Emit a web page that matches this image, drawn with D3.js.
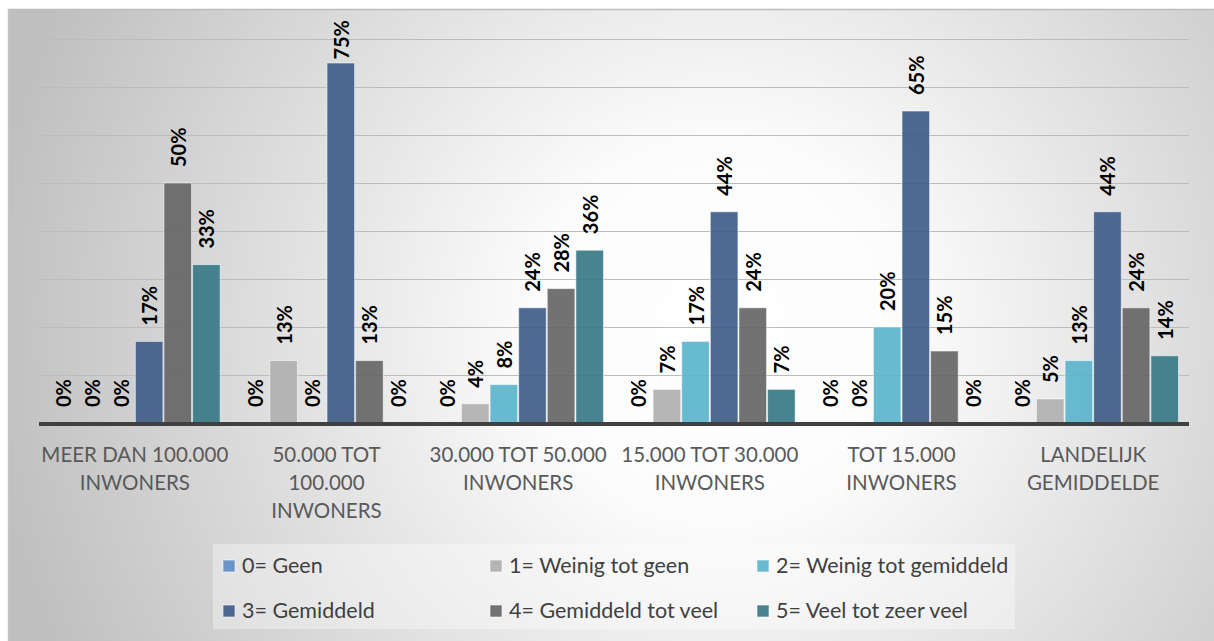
<!DOCTYPE html>
<html>
<head>
<meta charset="utf-8">
<script src="https://cdn.jsdelivr.net/npm/d3@7"></script>
<style>
  html, body { margin: 0; padding: 0; background: #ffffff; }
  svg { display: block; }
  text { font-family: Lato, "Open Sans", sans-serif; }
</style>
</head>
<body>
<svg id="chart" width="1214" height="641"></svg>
<script>
// Categories (municipality size) — "\n" marks a line break in the axis label
const categories = [
  "MEER DAN 100.000\nINWONERS",
  "50.000 TOT\n100.000\nINWONERS",
  "30.000 TOT 50.000\nINWONERS",
  "15.000 TOT 30.000\nINWONERS",
  "TOT 15.000\nINWONERS",
  "LANDELIJK\nGEMIDDELDE"
];

// Answer scale (series)
const series = [
  "0= Geen",
  "1= Weinig tot geen",
  "2= Weinig tot gemiddeld",
  "3= Gemiddeld",
  "4= Gemiddeld tot veel",
  "5= Veel tot zeer veel"
];

// Share per category, one array per series (percent)
const geen               = [0, 0, 0, 0, 0, 0];
const weinigTotGeen      = [0, 13, 4, 7, 0, 5];
const weinigTotGemiddeld = [0, 0, 8, 17, 20, 13];
const gemiddeld          = [17, 75, 24, 44, 65, 44];
const gemiddeldTotVeel   = [50, 13, 28, 24, 15, 24];
const veelTotZeerVeel    = [33, 0, 36, 7, 0, 14];

const seriesValues = [geen, weinigTotGeen, weinigTotGemiddeld, gemiddeld, gemiddeldTotVeel, veelTotZeerVeel];
const colors = ["#5f8dc6", "#b0b0b0", "#5ab4cc", "#3f5d88", "#666666", "#377a86"];

// Gridline values (percent)
const gridTicks = [10, 20, 30, 40, 50, 60, 70, 80];

const svg = d3.select("#chart");
const W = 1214, H = 641;

// Background panel with a soft radial shading
const defs = svg.append("defs");
const grad = defs.append("radialGradient")
  .attr("id", "bg").attr("gradientUnits", "userSpaceOnUse")
  .attr("cx", 720).attr("cy", 330).attr("r", 740);
grad.append("stop").attr("offset", "0").attr("stop-color", "#ffffff");
grad.append("stop").attr("offset", "0.25").attr("stop-color", "#fcfcfc");
grad.append("stop").attr("offset", "1").attr("stop-color", "#bfbfbf");

svg.append("rect").attr("x", 8).attr("y", 9).attr("width", W - 8).attr("height", H - 9)
  .attr("fill", "url(#bg)");
svg.append("line").attr("x1", 8).attr("x2", W).attr("y1", 9.5).attr("y2", 9.5)
  .attr("stroke", "#bdbdbd").attr("stroke-width", 1.5);
svg.append("line").attr("x1", 8.5).attr("x2", 8.5).attr("y1", 9).attr("y2", H)
  .attr("stroke", "#c4c4c4").attr("stroke-width", 1.5);

// Scales
const plot = { left: 39, right: 1189, top: 39, bottom: 423 };
const x0 = d3.scaleBand().domain(categories).range([plot.left, plot.right]).padding(0);
const x1 = d3.scaleBand().domain(series).range([0, x0.bandwidth()])
  .paddingInner(0).paddingOuter(0.35);
const y = d3.scaleLinear().domain([0, 80]).range([plot.bottom, plot.top]);

// Gridlines
svg.append("g").selectAll("line").data(gridTicks).join("line")
  .attr("x1", plot.left).attr("x2", plot.right)
  .attr("y1", d => Math.round(y(d)) + 0.5).attr("y2", d => Math.round(y(d)) + 0.5)
  .attr("stroke", "#bcbcbc").attr("stroke-width", 1);

// Bars
const flat = [];
series.forEach((s, si) => {
  categories.forEach((c, ci) => {
    flat.push({ s, si, c, ci, v: seriesValues[si][ci] });
  });
});

svg.append("g").selectAll("rect").data(flat.filter(d => d.v > 0)).join("rect")
  .attr("x", d => x0(d.c) + x1(d.s) + 0.5)
  .attr("y", d => y(d.v))
  .attr("width", x1.bandwidth() - 1)
  .attr("height", d => y(0) - y(d.v))
  .attr("fill", d => colors[d.si])
  .attr("fill-opacity", 0.92)
  .attr("stroke", "rgba(255,255,255,0.55)")
  .attr("stroke-width", 1);

// Category axis line
svg.append("line").attr("x1", plot.left).attr("x2", plot.right)
  .attr("y1", y(0) + 1).attr("y2", y(0) + 1)
  .attr("stroke", "#404040").attr("stroke-width", 4);

// Value labels, rotated, above each bar
const labels = svg.append("g").selectAll("text").data(flat).join("text")
  .attr("font-weight", 700).attr("font-size", 20).attr("fill", "#000")
  .attr("text-anchor", "start").attr("dominant-baseline", "central")
  .text(d => d.v + "%");
labels.each(function (d) {
  const cx = x0(d.c) + x1(d.s) + x1.bandwidth() / 2;
  const len = this.getComputedTextLength();
  let base = y(d.v) - 16;
  if (base - len < 20) base = 20 + len; // keep the label inside the panel
  d3.select(this).attr("transform", `translate(${cx},${base}) rotate(-90)`);
});

// Category labels
const catG = svg.append("g");
categories.forEach(c => {
  const t = catG.append("text")
    .attr("x", x0(c) + x0.bandwidth() / 2).attr("y", 462)
    .attr("text-anchor", "middle").attr("font-size", 20.5).attr("fill", "#595959");
  c.split("\n").forEach((line, i) => {
    t.append("tspan").attr("x", x0(c) + x0.bandwidth() / 2)
      .attr("dy", i === 0 ? 0 : 28).text(line);
  });
});

// Legend
const legend = svg.append("g");
legend.append("rect").attr("x", 213).attr("y", 544).attr("width", 802).attr("height", 85)
  .attr("fill", "#ffffff").attr("fill-opacity", 0.35);
const colX = [223, 490, 757];
const rowY = [573, 618];
series.forEach((s, i) => {
  const cx = colX[i % 3], by = rowY[Math.floor(i / 3)];
  legend.append("rect").attr("x", cx).attr("y", by - 13).attr("width", 12).attr("height", 12)
    .attr("fill", colors[i]).attr("fill-opacity", 0.92)
    .attr("stroke", "rgba(255,255,255,0.6)").attr("stroke-width", 1);
  legend.append("text").attr("x", cx + 19).attr("y", by)
    .attr("font-size", 21.5).attr("fill", "#404040").text(s);
});
</script>
</body>
</html>
